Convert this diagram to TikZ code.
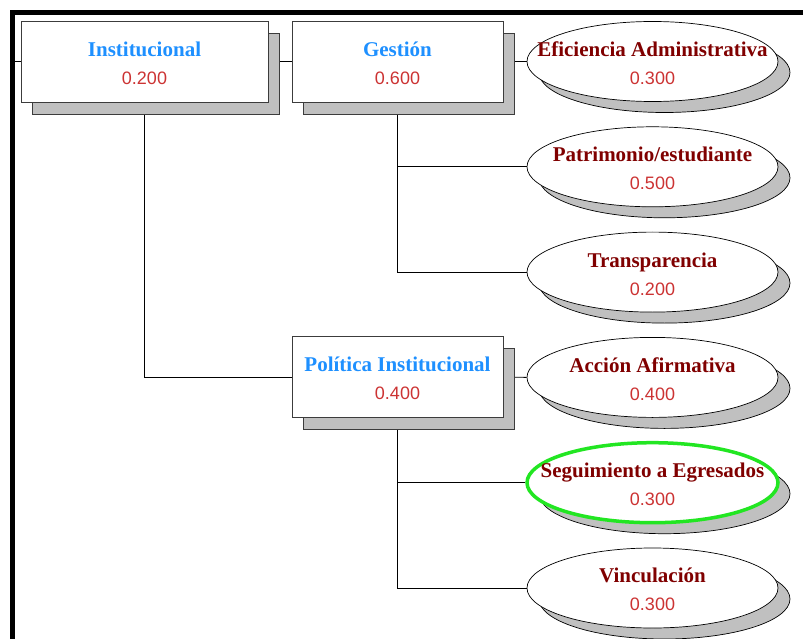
\documentclass[tikz,border=0pt]{standalone}
\usepackage{fontspec}
\setmainfont{Liberation Serif}
\setsansfont{Liberation Sans}
\usetikzlibrary{shapes.geometric,shadows,backgrounds}
\definecolor{azultitulo}{RGB}{30,144,255}
\definecolor{granate}{RGB}{128,0,0}
\definecolor{rojovalor}{RGB}{204,51,51}
\definecolor{sombra}{RGB}{192,192,192}
\definecolor{borde}{RGB}{60,60,60}
\definecolor{verdesel}{RGB}{34,230,34}
\newcommand{\nodo}[3]{\makebox[0pt]{\rule{0pt}{18pt}\textcolor{#1}{\bfseries #2}}\\\makebox[0pt]{\fontsize{18}{28}\sffamily\selectfont\textcolor{rojovalor}{#3}}}

\begin{document}
\begin{tikzpicture}[x=1pt,y=-1pt,
    font=\fontsize{21}{28}\selectfont,
    caja/.style={rectangle, draw=borde, line width=0.9pt, fill=white,
      minimum width=211pt, minimum height=81pt, inner sep=0pt, align=center,
      drop shadow={shadow xshift=11pt, shadow yshift=-12pt, fill=sombra,
        draw=borde, line width=0.9pt, opacity=1}},
    hoja/.style={ellipse, draw=black, line width=0.7pt, fill=white,
      minimum width=251pt, minimum height=80pt, inner sep=0pt, align=center,
      drop shadow={shadow xshift=12pt, shadow yshift=-11pt, fill=sombra,
        draw=black, line width=0.7pt, opacity=1}},
    normal/.style={},
    elegida/.style={draw=verdesel, line width=3.5pt},
    enlace/.style={draw=black, line width=0.8pt}]
  \useasboundingbox (0,0) rectangle (803,639);
  % marco
  \draw[line width=4.5pt] (12.5,639) -- (12.5,12.5) -- (803,12.5);
  % criterios
  \node[caja, minimum width=247pt] (inst) at (144.5,61.5) {\nodo{azultitulo}{Institucional}{0.200}};
  \node[caja] (gest) at (397.5,61.5) {\nodo{azultitulo}{Gestión}{0.600}};
  \node[caja] (polit) at (397.5,377) {\nodo{azultitulo}{Política Institucional}{0.400}};
  % indicadores
  \foreach \clave/\nombre/\valor/\estilo [count=\k from 0] in {
      efic/Eficiencia Administrativa/0.300/normal,
      patr/{Patrimonio/estudiante}/0.500/normal,
      transp/Transparencia/0.200/normal,
      accion/Acción Afirmativa/0.400/normal,
      segui/Seguimiento a Egresados/0.300/elegida,
      vinc/Vinculación/0.300/normal} {
    \node[hoja, \estilo] (\clave) at (652.5,{61.5+105.3*\k}) {\nodo{granate}{\nombre}{\valor}};
  }
  \begin{scope}[on background layer]
    \coordinate (marco) at (12.5,61.5);
    \draw[enlace] (marco) -- (inst.west);
    \draw[enlace] (inst.east) -- (gest.west);
    \draw[enlace] (gest.east) -- (efic.west);
    \draw[enlace] (gest.south) |- (patr.west);
    \draw[enlace] (gest.south) |- (transp.west);
    \draw[enlace] (inst.south) |- (polit.west);
    \draw[enlace] (polit.east) -- (accion.west);
    \draw[enlace] (polit.south) |- (segui.west);
    \draw[enlace] (polit.south) |- (vinc.west);
  \end{scope}
\end{tikzpicture}
\end{document}
